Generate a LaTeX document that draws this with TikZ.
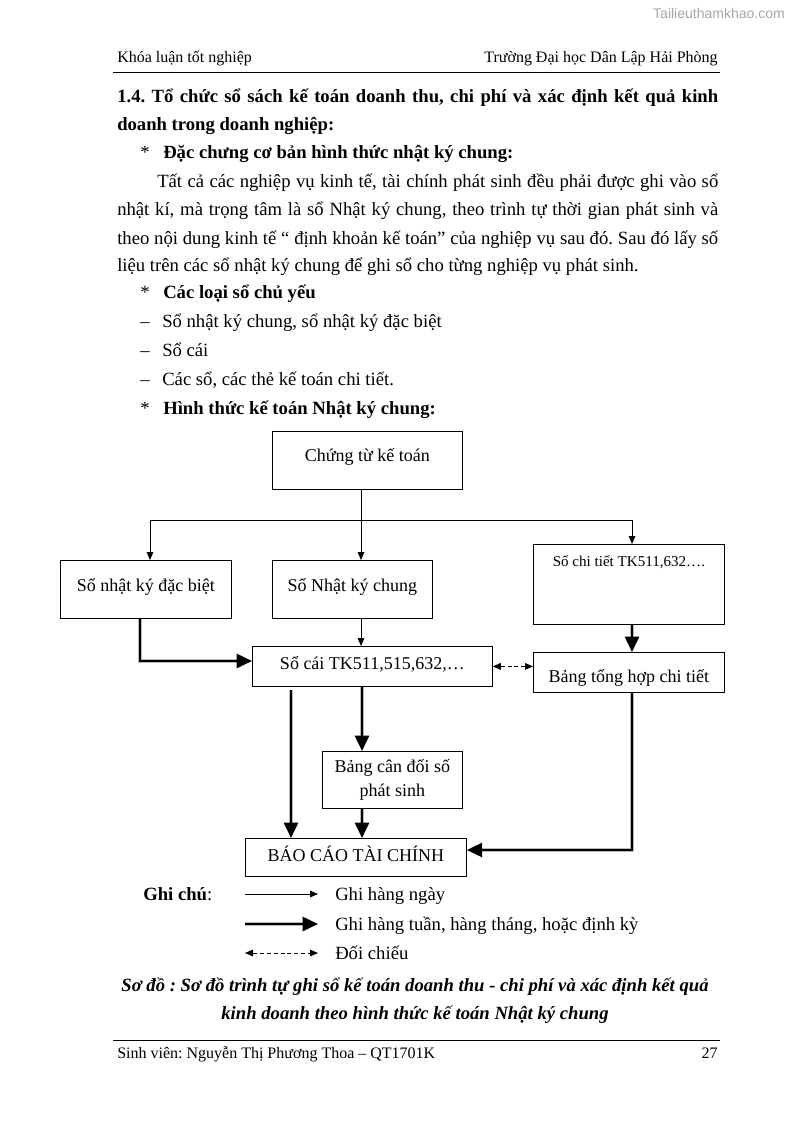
\documentclass[tikz,border=0pt]{standalone}
\usepackage{fontspec}
\setmainfont{Liberation Serif}
\newfontfamily\wmfont{Liberation Sans}
\usetikzlibrary{arrows.meta}
\newcommand\fsA{\fontsize{14pt}{17pt}\selectfont}
\newcommand\fsH{\fontsize{12pt}{14pt}\selectfont}
\newcommand\fsX{\fontsize{13.5pt}{16pt}\selectfont}
\newcommand\fsB{\fontsize{11.3pt}{13pt}\selectfont}
\newcommand\jline[2]{\makebox[#1][s]{#2}}
\frenchspacing
\begin{document}
\begin{tikzpicture}[x=0.75pt,y=-0.75pt,
  every node/.style={inner sep=0pt, font=\fsA},
  txt/.style={anchor=base west},
  box/.style={draw, line width=0.6pt, inner sep=0pt, anchor=north west, font=\fsX},
  thinarr/.style={line width=0.6pt, -{Triangle[width=5pt,length=6pt]}},
  thickarr/.style={line width=2pt, preaction={draw=gray!55, line width=3.3pt, -, shorten >=8pt},
     -{Triangle[width=10.5pt,length=11.5pt]}},
  dasharr/.style={line width=0.6pt, dash pattern=on 3pt off 2.2pt, {Triangle[width=5pt,length=6pt]}-{Triangle[width=5pt,length=6pt]}},
  rule/.style={line width=0.7pt}]
\useasboundingbox (0,0) rectangle (794,1123);
\fill[white] (0,0) rectangle (794,1123);

% watermark
\node[anchor=base east, font=\wmfont\fontsize{10.5pt}{12pt}\selectfont, text=gray!70] (wm) at (785,19) {Tailieuthamkhao.com};

% header
\node[txt, font=\fsH] (h1) at (117,63) {Khóa luận tốt nghiệp};
\node[anchor=base east, font=\fsH] (h2) at (718,63) {Trường Đại học Dân Lập Hải Phòng};
\coordinate (rl1) at (113,72);
\coordinate (rr1) at (720,72);
\draw[rule] (rl1) -- (rr1);

% heading
\node[txt, font=\fsA\bfseries] (t1) at (117,103) {\jline{450.75pt}{1.4. Tổ chức sổ sách kế toán doanh thu, chi phí và xác định kết quả kinh}};
\node[txt, font=\fsA\bfseries] (t2) at (117,131) {doanh trong doanh nghiệp:};
\node[txt] (s1) at (140,159) {*};
\node[txt, font=\fsA\bfseries] (t3) at (163,159) {Đặc chưng cơ bản hình thức nhật ký chung:};

% paragraph
\node[txt] (p1) at (157,188) {\jline{420.75pt}{Tất cả các nghiệp vụ kinh tế, tài chính phát sinh đều phải được ghi vào sổ}};
\node[txt] (p2) at (117,216) {\jline{450.75pt}{nhật kí, mà trọng tâm là sổ Nhật ký chung, theo trình tự thời gian phát sinh và}};
\node[txt] (p3) at (117,244) {\jline{450.75pt}{theo nội dung kinh tế “ định khoản kế toán” của nghiệp vụ sau đó. Sau đó lấy số}};
\node[txt] (p4) at (117,271) {liệu trên các sổ nhật ký chung để ghi sổ cho từng nghiệp vụ phát sinh.};

\node[txt] (s2) at (140,298) {*};
\node[txt, font=\fsA\bfseries] (t4) at (163,298) {Các loại sổ chủ yếu};
\node[txt] (d1) at (140,327) {–};
\node[txt] (l1) at (162,327) {Sổ nhật ký chung, sổ nhật ký đặc biệt};
\node[txt] (d2) at (140,356) {–};
\node[txt] (l2) at (162,356) {Sổ cái};
\node[txt] (d3) at (140,385) {–};
\node[txt] (l3) at (162,385) {Các sổ, các thẻ kế toán chi tiết.};
\node[txt] (s3) at (140,414) {*};
\node[txt, font=\fsA\bfseries] (t5) at (163,414) {Hình thức kế toán Nhật ký chung:};

% diagram boxes
\node[box, minimum width=142.5pt, text height=22.5pt, text depth=21pt] (ct) at (272,431) {Chứng từ kế toán};
\node[box, minimum width=128.25pt, text height=23.25pt, text depth=20.25pt] (sdb) at (60,560) {Sổ nhật ký đặc biệt};
\node[box, minimum width=120pt, text height=23.25pt, text depth=20.25pt] (snkc) at (272,560) {Sổ Nhật ký chung};
\node[box, minimum width=143.25pt, text height=16.5pt, text depth=43.5pt, font=\fsB] (sct) at (533,544) {Sổ chi tiết TK511,632….};
\node[box, minimum width=180pt, text height=17.25pt, text depth=12.75pt] (sc) at (252,646) {Sổ cái TK511,515,632,…};
\node[box, minimum width=143.25pt, text height=22.5pt, text depth=7.5pt] (sth) at (533,652) {Bảng tổng hợp chi tiết};
\node[box, minimum width=105pt, minimum height=42.75pt, align=center, font=\fontsize{13.5pt}{18pt}\selectfont] (bcd) at (322,751) {Bảng cân đối số\\phát sinh};
\node[box, minimum width=165.75pt, text height=17.25pt, text depth=11.25pt] (bc) at (245,838) {BÁO CÁO TÀI CHÍNH};

% connectors
\coordinate (hl) at (150,520);
\coordinate (hm) at (361,520);
\coordinate (hr) at (632,520);
\draw[line width=0.6pt] (hl) -- (hr);
\draw[thinarr] (hm |- ct.south) -- (hm |- snkc.north);
\draw[thinarr] (hl) -- (hl |- sdb.north);
\draw[thinarr] (hr) -- (hr |- sct.north);
\draw[thinarr] (hm |- snkc.south) -- (hm |- sc.north);

\coordinate (xa) at (140,661);
\draw[thickarr] (xa |- sdb.south) -- (xa) -- (xa -| sc.west);
\draw[dasharr] (sc.east) -- (sc.east -| sth.west);
\draw[thickarr] (hr |- sct.south) -- (hr |- sth.north);

\coordinate (xb) at (291,690);
\draw[thickarr] (xb) -- (xb |- bc.north);
\coordinate (xc) at (362,700);
\draw[thickarr] (xc |- sc.south) -- (xc |- bcd.north);
\draw[thickarr] (xc |- bcd.south) -- (xc |- bc.north);
\coordinate (xd) at (632,850);
\draw[thickarr] (xd |- sth.south) -- (xd) -- (xd -| bc.east);

% legend
\node[txt] (gc) at (143,900) {\textbf{Ghi chú}:};
\coordinate (la1) at (245,894); \coordinate (lb1) at (318,894);
\coordinate (la2) at (245,924); \coordinate (lb2) at (318,924);
\coordinate (la3) at (245,953); \coordinate (lb3) at (318,953);
\draw[thinarr] (la1) -- (lb1);
\draw[thickarr] (la2) -- (lb2);
\draw[dasharr] (la3) -- (lb3);
\node[txt] (g1) at (335,900) {Ghi hàng ngày};
\node[txt] (g2) at (335,930) {Ghi hàng tuần, hàng tháng, hoặc định kỳ};
\node[txt] (g3) at (335,959) {Đối chiếu};

% caption
\node[anchor=base, font=\fsA\bfseries\itshape] (c1) at (415,991) {Sơ đồ : Sơ đồ trình tự ghi sổ kế toán doanh thu - chi phí và xác định kết quả};
\node[anchor=base, font=\fsA\bfseries\itshape] (c2) at (415,1019) {kinh doanh theo hình thức kế toán Nhật ký chung};

% footer
\coordinate (rl2) at (113,1040);
\coordinate (rr2) at (720,1040);
\draw[rule] (rl2) -- (rr2);
\node[txt, font=\fsH] (f1) at (117,1058) {Sinh viên: Nguyễn Thị Phương Thoa – QT1701K};
\node[anchor=base east, font=\fsH] (f2) at (718,1058) {27};
\end{tikzpicture}
\end{document}
